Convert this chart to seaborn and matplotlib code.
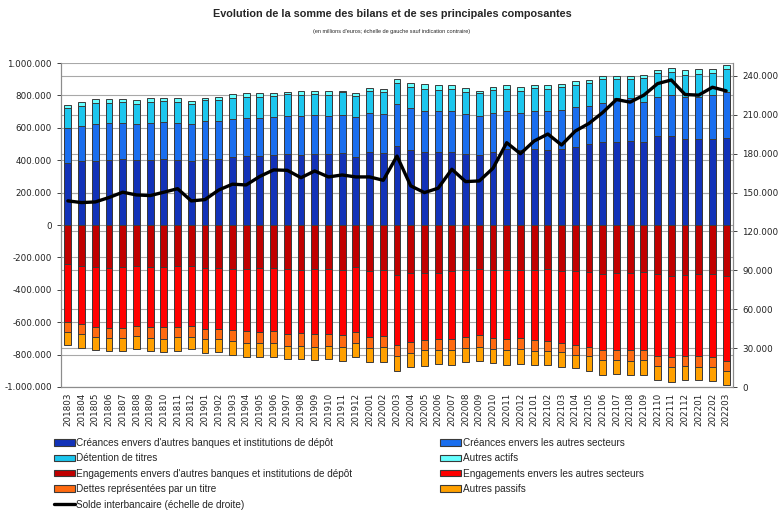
import numpy as np
import seaborn as sns
import matplotlib.pyplot as plt
from matplotlib.patches import Patch
from matplotlib.lines import Line2D
from matplotlib.ticker import FuncFormatter, MultipleLocator

# Months (categories)
months = ['201803', '201804', '201805', '201806', '201807', '201808', '201809', '201810', '201811', '201812',
          '201901', '201902', '201903', '201904', '201905', '201906', '201907', '201908', '201909', '201910',
          '201911', '201912', '202001', '202002', '202003', '202004', '202005', '202006', '202007', '202008',
          '202009', '202010', '202011', '202012', '202101', '202102', '202103', '202104', '202105', '202106',
          '202107', '202108', '202109', '202110', '202111', '202112', '202201', '202202', '202203']

# Actif (en milliers de millions d'euros -> x1000 plus bas)
creances_banques = [380, 394, 398, 404, 410, 400, 404, 410, 404, 392, 410, 410, 420, 424, 424, 431, 437, 431, 437, 437,
                    443, 420, 449, 443, 488, 462, 451, 449, 451, 437, 433, 449, 468, 462, 468, 463, 472, 482, 497, 515,
                    515, 519, 515, 548, 552, 533, 529, 533, 540]
creances_secteurs = [219, 219, 223, 228, 222, 221, 228, 228, 228, 234, 234, 234, 236, 238, 238, 237, 237, 242, 244, 237,
                     238, 248, 244, 244, 260, 262, 251, 253, 251, 246, 242, 244, 235, 231, 238, 239, 240, 244, 239, 240,
                     269, 265, 246, 244, 248, 259, 263, 269, 283]
detention_titres = [125, 121, 132, 123, 127, 128, 129, 129, 129, 123, 129, 129, 127, 127, 127, 127, 134, 131, 127, 130,
                    139, 130, 133, 137, 127, 127, 139, 133, 135, 141, 141, 139, 138, 135, 141, 139, 141, 140, 138, 148,
                    119, 119, 144, 145, 143, 137, 141, 138, 137]
autres_actifs = [19, 23, 26, 24, 20, 24, 22, 20, 22, 18, 14, 20, 27, 23, 23, 22, 14, 22, 18, 22,
                 10, 16, 21, 17, 24, 25, 27, 27, 27, 23, 14, 21, 21, 25, 19, 25, 17, 22, 23, 18,
                 18, 18, 20, 21, 27, 27, 27, 24, 25]

# Passif (valeurs absolues, tracées en négatif)
engagements_banques = [238, 251, 257, 263, 257, 251, 257, 257, 251, 251, 267, 263, 270, 272, 263, 263, 272, 276, 270, 274,
                       278, 257, 282, 278, 306, 298, 294, 294, 282, 276, 272, 276, 276, 278, 278, 270, 282, 282, 290, 302,
                       294, 296, 290, 304, 313, 306, 302, 300, 315]
engagements_secteurs = [361, 362, 373, 371, 379, 370, 375, 375, 377, 370, 373, 377, 380, 384, 395, 393, 401, 389, 401, 397,
                        401, 401, 409, 407, 435, 422, 414, 407, 419, 413, 409, 419, 428, 422, 434, 448, 448, 456, 465, 470,
                        479, 477, 483, 505, 502, 503, 509, 515, 525]
dettes_titres = [63, 62, 59, 61, 59, 64, 68, 72, 65, 68, 66, 66, 68, 72, 72, 74, 72, 80, 80, 74,
                 72, 72, 70, 70, 65, 68, 65, 72, 71, 70, 70, 68, 69, 63, 68, 58, 54, 62, 54, 61,
                 60, 64, 60, 61, 59, 59, 63, 63, 59]
autres_passifs = [76, 82, 84, 85, 85, 82, 78, 82, 85, 78, 82, 80, 86, 85, 83, 85, 84, 84, 82, 84,
                  86, 83, 82, 88, 97, 90, 95, 87, 92, 84, 86, 91, 89, 93, 84, 88, 90, 83, 90, 91,
                  87, 87, 91, 89, 93, 86, 85, 85, 86]

# Solde interbancaire (échelle de droite)
solde = [143.6, 142.3, 142.8, 146.2, 150.3, 148.2, 147.7, 150.3, 153.0, 143.6, 144.6, 152.0, 156.5, 155.9, 162.5,
         167.5, 167.2, 161.5, 166.7, 162.1, 163.6, 162.1, 162.1, 159.5, 178.2, 155.2, 150.0, 153.4, 168.0, 158.5,
         159.0, 168.8, 188.5, 180.0, 189.8, 195.2, 186.7, 197.5, 203.4, 211.8, 221.8, 219.8, 225.2, 234.1, 236.9,
         225.7, 225.2, 231.3, 228.5]

labels_actif = ["Créances envers d'autres banques et institutions de dépôt",
                "Créances envers les autres secteurs",
                "Détention de titres",
                "Autres actifs"]
labels_passif = ["Engagements envers d'autres banques et institutions de dépôt",
                 "Engagements envers les autres secteurs",
                 "Dettes représentées par un titre",
                 "Autres passifs"]
label_solde = "Solde interbancaire (échelle de droite)"

colors_actif = ['#1232B8', '#1A6EEE', '#1CC6EE', '#66FFFF']
colors_passif = ['#C00000', '#FF0000', '#FF6A10', '#FFA000']
edge = '#3A3A3A'
grid_col = '#A8A8A8'

sns.set_style('white')
narrow = ['Liberation Sans Narrow', 'Liberation Sans', 'DejaVu Sans']

fig = plt.figure(figsize=(7.83, 5.11), dpi=100)
ax = fig.add_axes([61 / 783, 1 - 387 / 511, 672 / 783, 324 / 511])

# barres empilées : on trace les cumuls, le plus grand d'abord
pos = np.cumsum(np.array([creances_banques, creances_secteurs, detention_titres, autres_actifs]) * 1000, axis=0)
neg = -np.cumsum(np.array([engagements_banques, engagements_secteurs, dettes_titres, autres_passifs]) * 1000, axis=0)

for i in reversed(range(4)):
    sns.barplot(x=months, y=pos[i], color=colors_actif[i], saturation=1, width=0.5,
                edgecolor=edge, linewidth=0.7, errorbar=None, ax=ax, zorder=3)
    sns.barplot(x=months, y=neg[i], color=colors_passif[i], saturation=1, width=0.5,
                edgecolor=edge, linewidth=0.7, errorbar=None, ax=ax, zorder=3)

ax.set_ylim(-1000000, 1000000)
ax.yaxis.set_major_locator(MultipleLocator(200000))
ax.yaxis.set_major_formatter(FuncFormatter(lambda v, p: f'{v:,.0f}'.replace(',', '.')))
ax.grid(axis='y', color=grid_col, lw=0.8, zorder=0)
ax.set_axisbelow(True)

# axe de droite
ax2 = ax.twinx()
sns.lineplot(x=np.arange(len(months)), y=np.array(solde) * 1000, color='black', linewidth=2.4, ax=ax2, zorder=5)
ax2.set_ylim(0, 250000)
ax2.yaxis.set_major_locator(MultipleLocator(30000))
ax2.yaxis.set_major_formatter(FuncFormatter(lambda v, p: f'{v:,.0f}'.replace(',', '.')))
ax2.grid(False)

# quadrillage de l'axe de droite, derrière les barres
for t in ax2.get_yticks():
    if 0 < t <= 250000:
        ax.axhline(t / 250000 * 2000000 - 1000000, color=grid_col, lw=0.8, zorder=0)

ax.set_xlim(-0.5, len(months) - 0.5)
ax.set_xlabel('')
ax.set_ylabel('')
ax2.set_ylabel('')
ax.set_xticks(np.arange(len(months)))
ax.set_xticklabels(months, rotation=90)

for a in (ax, ax2):
    a.tick_params(axis='both', labelsize=6.3, colors='#222222', length=3, width=0.6)
    for s in a.spines.values():
        s.set_color('#8C8C8C')
        s.set_linewidth(0.8)
    a.spines['top'].set_visible(False)
ax.tick_params(axis='x', length=2, pad=2)

fig.text(392 / 783, 1 - 14 / 511, "Evolution de la somme des bilans et de ses principales composantes",
         ha='center', va='center', fontsize=7.8, fontweight='bold', family=narrow)
fig.text(392 / 783, 1 - 31 / 511, "(en millions d'euros; échelle de gauche sauf indication contraire)",
         ha='center', va='center', fontsize=4, family=narrow)

# légende en deux blocs
def patch(c):
    return Patch(facecolor=c, edgecolor=edge, linewidth=0.8)

left_h = [patch(colors_actif[0]), patch(colors_actif[2]), patch(colors_passif[0]), patch(colors_passif[2]),
          Line2D([], [], color='black', lw=2.4)]
left_l = [labels_actif[0], labels_actif[2], labels_passif[0], labels_passif[2], label_solde]
right_h = [patch(colors_actif[1]), patch(colors_actif[3]), patch(colors_passif[1]), patch(colors_passif[3])]
right_l = [labels_actif[1], labels_actif[3], labels_passif[1], labels_passif[3]]

leg_kw = dict(loc='upper left', frameon=False, prop={'family': narrow, 'size': 7.2},
              handlelength=2.1, handleheight=0.6, handletextpad=0.15, labelspacing=0.54,
              borderpad=0, borderaxespad=0)
fig.legend(left_h, left_l, bbox_to_anchor=(54 / 783, 1 - 438 / 511), **leg_kw)
fig.legend(right_h, right_l, bbox_to_anchor=(440 / 783, 1 - 438 / 511), **leg_kw)

fig.savefig('out.png', dpi=100)
